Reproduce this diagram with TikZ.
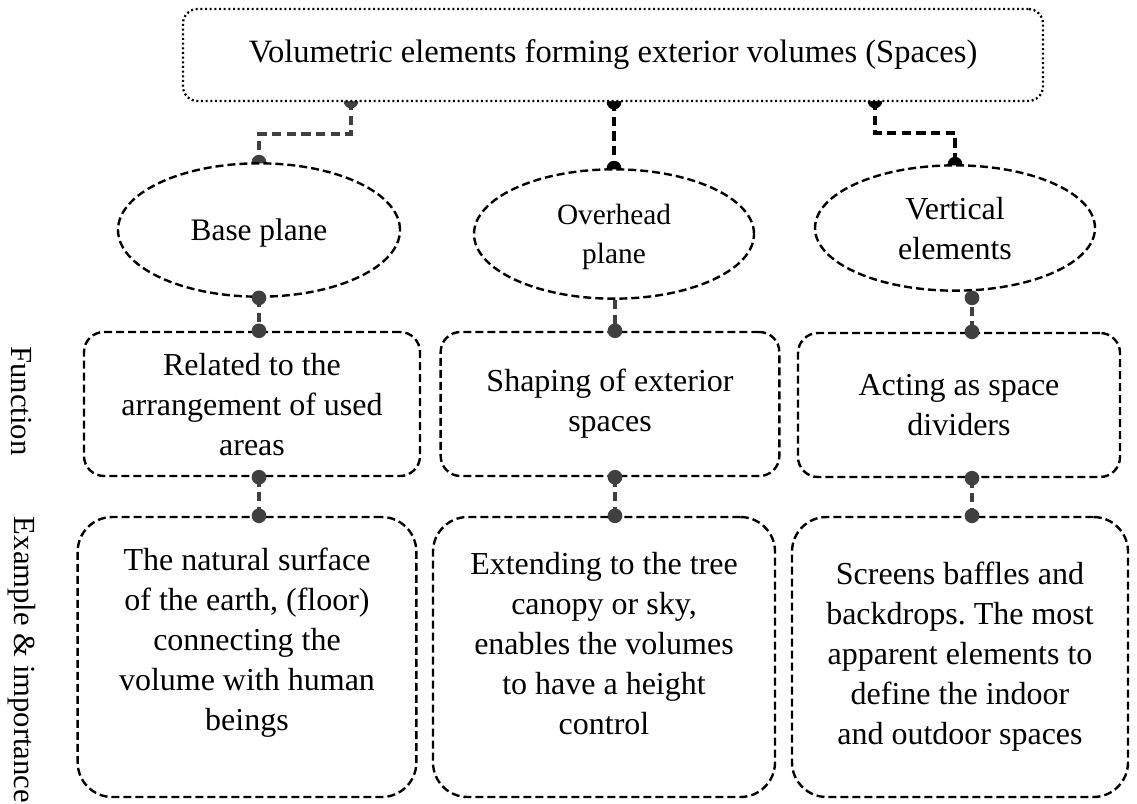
\documentclass[tikz,border=0pt]{standalone}
\usepackage{fontspec}
\setmainfont{Liberation Serif}
\frenchspacing
\usetikzlibrary{shapes.geometric,backgrounds}
\definecolor{dotgrey}{HTML}{404040}
\begin{document}
\begin{tikzpicture}[x=0.75pt,y=-0.75pt,
  txt/.style={font=\fontsize{24}{30}\selectfont, align=center, inner sep=0pt},
  border/.style={draw=black, line width=1.8pt, dash pattern=on 6pt off 3pt},
  topbox/.style={txt, draw=black, fill=white, line width=1.7pt, dash pattern=on 1.5pt off 2pt,
    rounded corners=11pt, minimum width=645pt, minimum height=69pt,
    font=\fontsize{24.4}{30}\selectfont},
  oval/.style={txt, ellipse, border, fill=white},
  fnbox/.style={txt, border, rounded corners=15pt, minimum height=108pt},
  exbox/.style={txt, border, rounded corners=26pt, minimum height=210pt},
  link/.style={line width=2.3pt, dash pattern=on 7pt off 4pt},
  dot/.style={circle, fill=dotgrey, inner sep=0pt, minimum size=11pt},
  side/.style={txt, rotate=-90, font=\fontsize{23}{30}\selectfont}
]
\useasboundingbox (0,0) rectangle (1137,803);

% title box
\node[topbox] (top) at (613,55) {Volumetric elements forming exterior volumes (Spaces)};

% the three kinds of planes
\node[oval, minimum width=211.5pt, minimum height=100pt, font=\fontsize{23.5}{30}\selectfont, text depth=-1pt] (e1) at (259,230) {Base plane};
\node[oval, minimum width=210pt, minimum height=97pt, font=\fontsize{22}{29}\selectfont, text depth=-4pt] (e2) at (614,234) {Overhead\\plane};
\node[oval, minimum width=210pt, minimum height=94pt, text depth=-7pt] (e3) at (955,228) {Vertical\\elements};

% function row
\node[fnbox, minimum width=252pt, text depth=-8.5pt] (f1) at (252,404) {Related to the\\arrangement of used\\areas};
\node[fnbox, minimum width=254pt] (f2) at (610,404) {Shaping of exterior\\spaces};
\node[fnbox, minimum width=241.5pt] (f3) at (959,405) {Acting as space\\dividers};

% example & importance row
\node[exbox, minimum width=254pt, text depth=26pt] (x1) at (247,657) {The natural surface\\of the earth, (floor)\\connecting the\\volume with human\\beings};
\node[exbox, minimum width=256.5pt, text depth=21pt] (x2) at (604,657) {Extending to the tree\\canopy or sky,\\enables the volumes\\to have a height\\control};
\node[exbox, minimum width=252pt] (x3) at (960,657) {Screens baffles and\\backdrops. The most\\apparent elements to\\define the indoor\\and outdoor spaces};

% row labels
\node[side] (lf) at (22,401) {Function};
\node[side] (le) at (22,660) {Example \& importance};

% links from the title box (half hidden behind the filled shapes)
\coordinate (t1) at (351,101);
\coordinate (t3) at (875,101);
\coordinate (t2) at (top.south -| e2.north);
\begin{pgfonlayer}{background}
  \draw[link, dotgrey] (t1) -- ++(0,33) -| (e1.north);
  \node[dot] at (t1) {};
  \node[dot] at (e1.north) {};
  \draw[link] (t2) -- (e2.north);
  \node[dot, fill=black] at (t2) {};
  \node[dot, fill=black] at (e2.north) {};
  \draw[link] (t3) -- ++(0,32) -| (e3.north);
  \node[dot, fill=black] at (t3) {};
  \node[dot, fill=black] at (e3.north) {};
\end{pgfonlayer}

% links between the rows
\coordinate (cl) at (259,0);
\coordinate (cm) at (615,0);
\coordinate (cr) at (972,0);

\draw[link, dotgrey] (cl |- e1.south) -- (cl |- f1.north);
\node[dot] at (cl |- e1.south) {};
\node[dot] at (cl |- f1.north) {};
\draw[link, dotgrey] (cl |- f1.south) -- (cl |- x1.north);
\node[dot] at (cl |- f1.south) {};
\node[dot] at (cl |- x1.north) {};

\draw[link, dotgrey] (cm |- e2.south) -- (cm |- f2.north);
\node[dot] at (cm |- f2.north) {};
\draw[link, dotgrey] (cm |- f2.south) -- (cm |- x2.north);
\node[dot] at (cm |- f2.south) {};
\node[dot] at (cm |- x2.north) {};

\draw[link, dotgrey] (cr |- e3.south) -- (cr |- f3.north);
\node[dot] at ([yshift=-4.5pt]cr |- e3.south) {};
\node[dot] at (cr |- f3.north) {};
\draw[link, dotgrey] (cr |- f3.south) -- (cr |- x3.north);
\node[dot] at (cr |- f3.south) {};
\node[dot] at (cr |- x3.north) {};
\end{tikzpicture}
\end{document}
